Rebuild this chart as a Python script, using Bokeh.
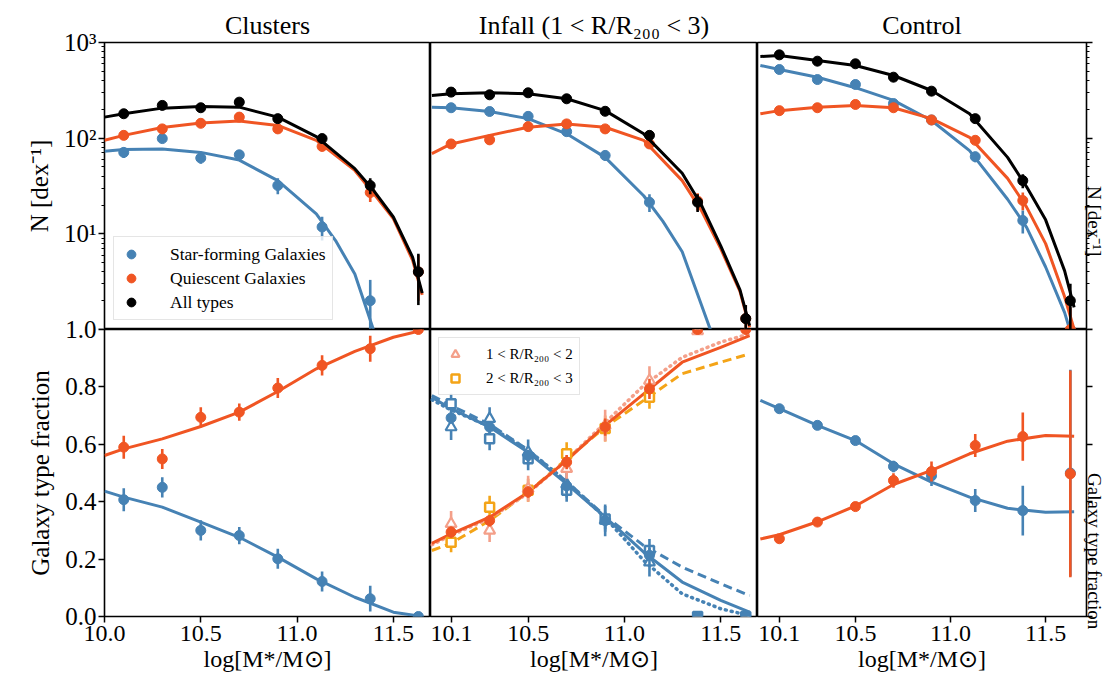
import math
from bokeh.plotting import figure
from bokeh.layouts import row, column
from bokeh.models import (Range1d, FixedTicker, PrintfTickFormatter, CustomJSTickFormatter,
                          Legend, LegendItem)
from bokeh.embed import file_html
from bokeh.resources import INLINE

FONT = "Liberation Serif"
C_SF = "#4682b4"
C_Q = "#f05523"
C_ALL = "black"
C_R1 = "#f4a08a"
C_R2 = "#f4a417"

titles = ["Clusters", "Infall (1 < R/R\u2082\u2080\u2080 < 3)", "Control"]
labels_top = ["Star-forming Galaxies", "Quiescent Galaxies", "All types"]
labels_inf = ["1 < R/R\u2082\u2080\u2080 < 2", "2 < R/R\u2082\u2080\u2080 < 3"]
xlabel = "log[M*/M\u2299]"
ylabel_top = "N [dex\u207b\u00b9]"
ylabel_bot = "Galaxy type fraction"

# mass bins
xb = [10.1, 10.3, 10.5, 10.7, 10.9, 11.13, 11.38, 11.63]

# ---------------- number counts (top row) ----------------
cl_all = [180, 220, 208, 238, 160, 99, 32, 4.0]
cl_all_err = [15, 17, 16, 18, 14, 10, 6, 2.2]
cl_q = [107, 125, 143, 166, 125, 82, 27, 4.0]
cl_q_err = [11, 12, 13, 14, 12, 9, 5.5, 2.0]
cl_sf = [71, 99, 62, 67, 32, 11.8, 2.0]
cl_sf_err = [9, 10, 8, 8, 6, 3.3, 1.3]

in_all = [303, 284, 298, 258, 191, 107, 21.4, 1.3]
in_all_err = [17, 17, 17, 16, 14, 10, 4.5, 0.5]
in_q = [87, 96, 132, 141, 125, 87, 22, 1.3]
in_q_err = [9, 10, 12, 12, 11, 9, 4.5, 0.5]
in_sf = [208, 190, 169, 117, 66, 21.4]
in_sf_err = [14, 14, 13, 11, 8, 4.5]

co_all = [743, 638, 599, 434, 310, 160, 36, 2.0]
co_all_err = [27, 25, 24, 21, 18, 13, 6, 1.0]
co_q = [194, 208, 225, 208, 155, 95, 22.3, 1.0]
co_q_err = [14, 14, 15, 14, 12, 10, 4.7, 0.7]
co_sf = [522, 410, 364, 230, 155, 64, 13.8, 1.0]
co_sf_err = [23, 20, 19, 15, 12, 8, 3.7, 0.7]

# fitted curves (top row)
fx_top = [10.0, 10.1, 10.3, 10.5, 10.7, 10.9, 11.1, 11.3, 11.4, 11.5, 11.6, 11.65]
cl_all_fit = [166, 180, 206, 214, 211, 166, 104, 48, 28, 15, 5.7, 2.4]
cl_q_fit = [95, 107, 129, 144, 151, 136, 95, 46, 26, 14.4, 5.3, 2.3]
fx_cl_sf = [10.0, 10.1, 10.3, 10.5, 10.7, 10.9, 11.1, 11.2, 11.3, 11.4]
cl_sf_fit = [73, 76, 77, 71, 59, 36, 16.2, 8.5, 3.8, 0.95]

in_all_fit = [279, 291, 298, 291, 258, 194, 111, 43, 20, 7.5, 2.6, 1.1]
in_q_fit = [69, 87, 107, 130, 141, 130, 95, 36, 17.5, 7.0, 2.5, 1.05]
fx_in_sf = [10.0, 10.1, 10.3, 10.5, 10.7, 10.9, 11.1, 11.2, 11.3, 11.4, 11.45]
in_sf_fit = [211, 208, 190, 160, 111, 63, 25, 13.5, 6.5, 1.8, 0.95]

co_all_fit = [714, 731, 649, 575, 452, 315, 180, 63, 31, 14, 4.1, 1.7]
co_q_fit = [180, 194, 211, 220, 208, 160, 102, 38, 19, 7.9, 2.2, 1.0]
fx_co_sf = [10.0, 10.1, 10.3, 10.5, 10.7, 10.9, 11.1, 11.3, 11.4, 11.5, 11.6, 11.63]
co_sf_fit = [575, 522, 434, 337, 248, 153, 74, 23, 11.7, 4.5, 1.5, 0.95]

# ---------------- type fractions (bottom row) ----------------
cl_fq = [0.59, 0.549, 0.694, 0.712, 0.796, 0.875, 0.933, 1.0]
cl_fsf = [0.407, 0.45, 0.30, 0.282, 0.201, 0.122, 0.062, 0.0]
cl_ferr = [0.04, 0.035, 0.035, 0.03, 0.035, 0.035, 0.045, 0.0]

in_fq = [0.294, 0.334, 0.434, 0.538, 0.66, 0.793, 1.0, 1.0]
in_fsf = [0.692, 0.66, 0.561, 0.455, 0.334, 0.213, 0.0, 0.0]
in_ferr = [0.02, 0.02, 0.02, 0.025, 0.03, 0.035, 0.0, 0.0]
in1_fq = [0.323, 0.30, 0.445, 0.515, 0.665, 0.822, 0.995]
in1_fsf = [0.66, 0.689, 0.572, 0.46, 0.335, 0.189]
in1_err = [0.045, 0.04, 0.045, 0.045, 0.055, 0.05, 0.0]
in2_fq = [0.259, 0.381, 0.44, 0.567, 0.655, 0.764]
in2_fsf = [0.741, 0.619, 0.55, 0.44, 0.34, 0.23, 0.0, 0.0]
in2_err = [0.035, 0.04, 0.04, 0.04, 0.045, 0.04, 0.0, 0.0]

co_fq = [0.271, 0.329, 0.383, 0.474, 0.505, 0.596, 0.627, 0.497]
co_fq_err = [0.012, 0.012, 0.015, 0.025, 0.035, 0.04, 0.084, 0.36]
co_fsf = [0.724, 0.666, 0.613, 0.523, 0.49, 0.404, 0.369, 0.5]
co_fsf_err = [0.012, 0.012, 0.015, 0.02, 0.035, 0.04, 0.087, 0.36]

fx_bot = [10.0, 10.1, 10.3, 10.5, 10.7, 10.9, 11.1, 11.3, 11.5, 11.65]
cl_fq_fit = [0.561, 0.584, 0.619, 0.662, 0.712, 0.784, 0.863, 0.924, 0.973, 0.997]
cl_fsf_fit = [0.437, 0.416, 0.381, 0.329, 0.276, 0.207, 0.131, 0.067, 0.015, 0.0]
in_fq_fit = [0.255, 0.288, 0.346, 0.433, 0.544, 0.666, 0.776, 0.886, 0.938, 0.979]
in1_fq_fit = [0.25, 0.283, 0.342, 0.43, 0.545, 0.675, 0.805, 0.903, 0.956, 0.985]
in2_fq_fit = [0.23, 0.255, 0.334, 0.433, 0.549, 0.66, 0.753, 0.846, 0.886, 0.915]
in_fsf_fit = [0.764, 0.724, 0.66, 0.572, 0.462, 0.346, 0.224, 0.12, 0.056, 0.015]
in1_fsf_fit = [0.755, 0.72, 0.662, 0.58, 0.47, 0.345, 0.195, 0.079, 0.027, 0.003]
in2_fsf_fit = [0.77, 0.735, 0.67, 0.58, 0.47, 0.35, 0.247, 0.172, 0.114, 0.073]
co_fq_fit = [0.27, 0.285, 0.33, 0.385, 0.46, 0.509, 0.567, 0.611, 0.631, 0.628]
co_fsf_fit = [0.753, 0.724, 0.666, 0.613, 0.532, 0.468, 0.416, 0.377, 0.363, 0.365]

# ticks
ytick_top = [1, 10, 100, 1000]
ytick_top_labels = {1: "", 10: "10\u00b9", 100: "10\u00b2", 1000: "10\u00b3"}
ytick_bot = [0.0, 0.2, 0.4, 0.6, 0.8, 1.0]
xtick_left = [10.0, 10.5, 11.0, 11.5]
xtick_other = [10.1, 10.5, 11.0, 11.5]
minor_log = [m * 10 ** e for e in range(0, 3) for m in range(2, 10)]

# ---------------- layout sizes ----------------
LB, RB, TB, BB = 104, 30, 42, 70
OV = 12  # bottom row overlaps the top row by this many px (transparent strip)
FW = [326, 327, 331]
FH = 287
XR = [(10.0, 11.693), (9.993, 11.691), (9.985, 11.715)]


def make(col, rw, title=None):
    w = FW[col] + (LB if col == 0 else 0) + (RB if col == 2 else 0)
    h = FH + (TB if rw == 0 else OV) + (BB if rw == 1 else 0)
    yloc = "left" if col == 0 else ("right" if col == 2 else None)
    xloc = "below" if rw == 1 else None
    p = figure(width=w, height=h, title=title,
               x_range=Range1d(*XR[col]),
               y_range=Range1d(1, 1000) if rw == 0 else Range1d(0, 1),
               y_axis_type="log" if rw == 0 else "linear",
               x_axis_location=xloc, y_axis_location=yloc,
               output_backend="svg", toolbar_location=None,
               min_border_left=LB if col == 0 else 0,
               min_border_right=RB if col == 2 else 0,
               min_border_top=TB if rw == 0 else OV,
               min_border_bottom=BB if rw == 1 else 0)
    p.grid.visible = False
    p.outline_line_color = "black"
    p.outline_line_width = 1.6
    p.outline_line_alpha = 1.0
    p.background_fill_color = "white"
    p.border_fill_color = "white"
    if rw == 1:
        p.border_fill_alpha = 0.0
    if title is not None:
        p.title.align = "center"
        p.title.text_font = FONT
        p.title.text_font_size = "26px"
        p.title.text_font_style = "normal"
        p.title.text_color = "black"
        p.title.standoff = 5
    return p


def style_axis(ax, label="", lsize="25px"):
    ax.axis_line_color = None
    ax.major_tick_out = 6
    ax.major_tick_in = 0
    ax.minor_tick_out = 3
    ax.minor_tick_in = 0
    ax.major_tick_line_width = 1.5
    ax.minor_tick_line_width = 1.1
    ax.major_tick_line_color = "black"
    ax.minor_tick_line_color = "black"
    ax.major_label_text_font = FONT
    ax.major_label_text_font_size = "25px"
    ax.major_label_text_color = "black"
    ax.major_label_standoff = 2
    ax.axis_label = label
    ax.axis_label_text_font = FONT
    ax.axis_label_text_font_size = lsize
    ax.axis_label_text_font_style = "normal"
    ax.axis_label_text_color = "black"
    ax.axis_label_standoff = 8


def errpts(p, x, y, err, color, marker="circle", size=10, fill=None, lw=1.0, elw=2.6):
    n = len(y)
    xs = x[:n]
    e = err[:n]
    lo = [v - d for v, d in zip(y, e)]
    hi = [v + d for v, d in zip(y, e)]
    p.segment(x0=xs, y0=lo, x1=xs, y1=hi, line_color=color, line_width=elw)
    return p.scatter(xs, y, marker=marker, size=size,
                     fill_color=fill if fill is not None else color,
                     line_color=color, line_width=lw)


t = [make(0, 0, titles[0]), make(1, 0, titles[1]), make(2, 0, titles[2])]
b = [make(0, 1), make(1, 1), make(2, 1)]

# ---- top panels ----
top_data = [
    (cl_sf, cl_sf_err, fx_cl_sf, cl_sf_fit, cl_q, cl_q_err, cl_q_fit, cl_all, cl_all_err, cl_all_fit),
    (in_sf, in_sf_err, fx_in_sf, in_sf_fit, in_q, in_q_err, in_q_fit, in_all, in_all_err, in_all_fit),
    (co_sf, co_sf_err, fx_co_sf, co_sf_fit, co_q, co_q_err, co_q_fit, co_all, co_all_err, co_all_fit),
]
legend_rs = None
for p, d in zip(t, top_data):
    sf, sfe, fxs, sff, q, qe, qf, al, ale, alf = d
    p.line(fxs, sff, line_color=C_SF, line_width=3)
    r_sf = errpts(p, xb, sf, sfe, C_SF)
    p.line(fx_top, qf, line_color=C_Q, line_width=3)
    r_q = errpts(p, xb, q, qe, C_Q)
    p.line(fx_top, alf, line_color=C_ALL, line_width=3)
    r_all = errpts(p, xb, al, ale, C_ALL)
    if legend_rs is None:
        legend_rs = (r_sf, r_q, r_all)

leg = Legend(items=[LegendItem(label=labels_top[0], renderers=[legend_rs[0]]),
                    LegendItem(label=labels_top[1], renderers=[legend_rs[1]]),
                    LegendItem(label=labels_top[2], renderers=[legend_rs[2]])],
             location="bottom_left")
leg.margin = 9
leg.padding = 6
leg.spacing = 2
leg.glyph_width = 22
leg.glyph_height = 22
leg.label_standoff = 28
leg.label_text_font = FONT
leg.label_text_font_size = "17.5px"
leg.label_text_color = "black"
leg.border_line_color = "#cccccc"
leg.border_line_width = 1
leg.background_fill_alpha = 0.8
t[0].add_layout(leg)

# ---- bottom panels ----
p = b[0]
p.line(fx_bot, cl_fq_fit, line_color=C_Q, line_width=3)
p.line(fx_bot, cl_fsf_fit, line_color=C_SF, line_width=3)
errpts(p, xb, cl_fq, cl_ferr, C_Q)
errpts(p, xb, cl_fsf, cl_ferr, C_SF)

p = b[1]
DOT = "1 5"
DASH = "9 5"
p.line(fx_bot, in2_fsf_fit, line_color=C_SF, line_width=3, line_dash=DASH)
p.line(fx_bot, in1_fsf_fit, line_color=C_SF, line_width=3.5, line_dash=DOT, line_cap="round")
p.line(fx_bot, in2_fq_fit, line_color=C_R2, line_width=3, line_dash=DASH)
p.line(fx_bot, in1_fq_fit, line_color=C_R1, line_width=3.5, line_dash=DOT, line_cap="round")
p.line(fx_bot, in_fsf_fit, line_color=C_SF, line_width=3)
p.line(fx_bot, in_fq_fit, line_color=C_Q, line_width=3)
errpts(p, xb, in2_fsf, in2_err, C_SF, marker="square", size=9, fill="white", lw=2.5)
errpts(p, xb, in1_fsf, in1_err, C_SF, marker="triangle", size=11, fill="white", lw=2.2)
r_sq = errpts(p, xb, in2_fq, in2_err, C_R2, marker="square", size=9, fill="white", lw=2.5)
r_tr = errpts(p, xb, in1_fq, in1_err, C_R1, marker="triangle", size=11, fill="white", lw=2.2)
errpts(p, xb, in_fsf, in_ferr, C_SF)
errpts(p, xb, in_fq, in_ferr, C_Q)

leg2 = Legend(items=[LegendItem(label=labels_inf[0], renderers=[r_tr]),
                     LegendItem(label=labels_inf[1], renderers=[r_sq])],
              location="top_left")
leg2.margin = 8
leg2.padding = 6
leg2.spacing = 4
leg2.glyph_width = 20
leg2.glyph_height = 20
leg2.label_standoff = 21
leg2.label_text_font = FONT
leg2.label_text_font_size = "15px"
leg2.label_text_color = "black"
leg2.border_line_color = "#cccccc"
leg2.border_line_width = 1
leg2.background_fill_alpha = 0.8
p.add_layout(leg2)

p = b[2]
p.line(fx_bot, co_fsf_fit, line_color=C_SF, line_width=3)
p.line(fx_bot, co_fq_fit, line_color=C_Q, line_width=3)
errpts(p, xb, co_fsf, co_fsf_err, C_SF)
errpts(p, xb, co_fq, co_fq_err, C_Q)

# ---- axes ----
ax = t[0].yaxis[0]
style_axis(ax, ylabel_top)
ax.ticker = FixedTicker(ticks=ytick_top, minor_ticks=minor_log)
ax.major_label_overrides = ytick_top_labels

ax = t[2].yaxis[0]
style_axis(ax, ylabel_top, "19px")
ax.ticker = FixedTicker(ticks=ytick_top, minor_ticks=minor_log)
ax.formatter = CustomJSTickFormatter(code="return ''")
ax.major_label_standoff = 0
ax.axis_label_standoff = 2

ax = b[0].yaxis[0]
style_axis(ax, ylabel_bot)
ax.ticker = FixedTicker(ticks=ytick_bot)
ax.formatter = PrintfTickFormatter(format="%.1f")
ax.minor_tick_line_color = None

ax = b[2].yaxis[0]
style_axis(ax, ylabel_bot, "19px")
ax.ticker = FixedTicker(ticks=ytick_bot)
ax.formatter = CustomJSTickFormatter(code="return ''")
ax.minor_tick_line_color = None
ax.major_label_standoff = 0
ax.axis_label_standoff = 2

for ax in (t[2].yaxis[0], b[2].yaxis[0]):
    try:
        ax.axis_label_orientation = -math.pi / 2
    except Exception:
        pass

for i, p in enumerate(b):
    ax = p.xaxis[0]
    style_axis(ax, xlabel, "24px")
    ax.major_label_text_font_size = "24px"
    ax.ticker = FixedTicker(ticks=xtick_left if i == 0 else xtick_other)
    ax.formatter = PrintfTickFormatter(format="%.1f")
    ax.minor_tick_line_color = None
    ax.major_label_standoff = 3
    ax.axis_label_standoff = 2

top_row = row(*t, spacing=0)
bot_row = row(*b, spacing=0, margin=(-OV, 0, 0, 0))
layout = column(top_row, bot_row, spacing=0)

open("out.html", "w").write(file_html(layout, INLINE))
